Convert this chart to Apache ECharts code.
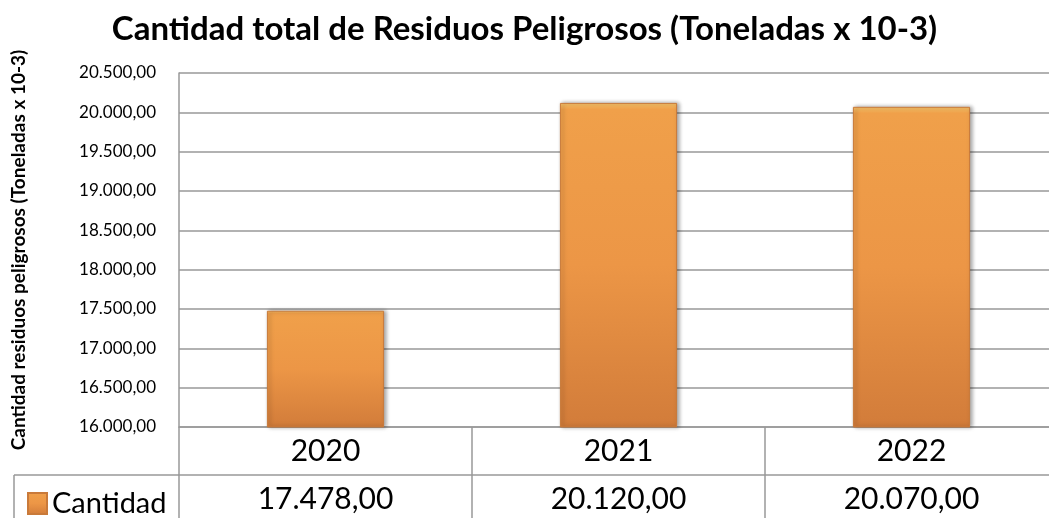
<!DOCTYPE html>
<html>
<head>
<meta charset="utf-8">
<script src="https://cdn.jsdelivr.net/npm/echarts@6/dist/echarts.min.js"></script>
<style>
  html, body { margin: 0; padding: 0; background: #fff; }
  #main { width: 1049px; height: 518px; }
</style>
</head>
<body>
<div id="main"></div>
<script>
// datos del grafico
var years = ['2020', '2021', '2022'];
var cantidad = [17478, 20120, 20070];
var yMin = 16000, yMax = 20500, yStep = 500;

// formato es-ES: 20.500,00
function fmt(v) {
  var parts = v.toFixed(2).split('.');
  return parts[0].replace(/\B(?=(\d{3})+(?!\d))/g, '.') + ',' + parts[1];
}

var gridLine = '#999';
var myChart = echarts.init(document.getElementById('main'));

var option = {
  animation: false,
  textStyle: {fontFamily: 'Lato'},
  title: {
    text: 'Cantidad total de Residuos Peligrosos (Toneladas x 10-3)',
    left: 'center',
    top: 8,
    textStyle: {fontFamily: 'Lato', fontWeight: 'bold', fontSize: 33, color: '#000'}
  },
  legend: {
    left: 22,
    top: 484,
    itemWidth: 19,
    itemHeight: 21,
    itemGap: 8,
    icon: 'rect',
    textStyle: {fontFamily: 'Lato', fontSize: 29, color: '#000'},
    data: ['Cantidad']
  },
  grid: {left: 179, right: -9, top: 73, bottom: 91, outerBoundsMode: 'none'},
  xAxis: [
    {
      type: 'category',
      data: years,
      axisLine: {lineStyle: {color: gridLine, width: 1.5}},
      axisTick: {show: true, length: 100, lineStyle: {color: gridLine, width: 1.5}},
      axisLabel: {fontFamily: 'Lato', fontSize: 30, color: '#000', margin: 9}
    },
    {
      type: 'category',
      position: 'bottom',
      offset: 48,
      data: cantidad.map(fmt),
      axisLine: {show: true, lineStyle: {color: gridLine, width: 1.5}},
      axisTick: {show: false},
      axisLabel: {fontFamily: 'Lato', fontSize: 30, color: '#000', margin: 9}
    }
  ],
  yAxis: {
    type: 'value',
    min: yMin,
    max: yMax,
    interval: yStep,
    name: 'Cantidad residuos peligrosos (Toneladas x 10-3)',
    nameLocation: 'middle',
    nameGap: 151,
    nameTextStyle: {fontFamily: 'Lato', fontWeight: 'bold', fontSize: 19, color: '#000'},
    axisLine: {show: true, lineStyle: {color: gridLine, width: 1.5}},
    axisTick: {show: false},
    splitLine: {lineStyle: {color: gridLine, width: 1.5}},
    axisLabel: {fontFamily: 'Lato', fontSize: 17, color: '#000', margin: 23, formatter: fmt}
  },
  graphic: [
    {type: 'line', shape: {x1: 14, y1: 475, x2: 179, y2: 475}, style: {stroke: gridLine, lineWidth: 1.5}},
    {type: 'line', shape: {x1: 14, y1: 475, x2: 14, y2: 520}, style: {stroke: gridLine, lineWidth: 1.5}}
  ],
  series: [
    {
      name: 'Cantidad',
      type: 'bar',
      data: cantidad,
      barWidth: '40%',
      itemStyle: {
        color: new echarts.graphic.LinearGradient(0, 0, 0, 1, [
          {offset: 0, color: '#f7c46a'},
          {offset: 0.02, color: '#f0a04a'},
          {offset: 0.5, color: '#ec9646'},
          {offset: 1, color: '#d27c3a'}
        ]),
        borderColor: '#c97a3a',
        borderWidth: 1,
        shadowColor: 'rgba(0,0,0,0.35)',
        shadowBlur: 4,
        shadowOffsetX: 2,
        shadowOffsetY: 0
      }
    }
  ]
};
myChart.setOption(option);
</script>
</body>
</html>
